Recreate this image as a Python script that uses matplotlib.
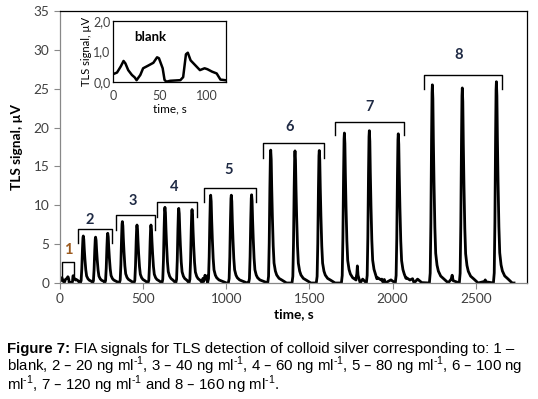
"""FIA signals for TLS detection of colloid silver (Figure 7 recreation)."""

import matplotlib
matplotlib.use("Agg")
import matplotlib.pyplot as plt

plt.rcParams["font.family"] = ["Lato", "DejaVu Sans"]

# blank run (inset, also the start of the main trace), time in s, signal in uV
blank_t = [0, 4, 8, 11, 13, 16, 20, 23, 25, 29, 32, 37, 43, 47, 49, 53, 55, 57,
           61, 72, 75, 78, 80, 83, 88, 93, 98, 101, 106, 111, 115, 120]
blank_v = [0.25, 0.3, 0.5, 0.68, 0.6, 0.38, 0.22, 0.14, 0.05, 0.22, 0.44, 0.52,
           0.62, 0.8, 0.77, 0.44, 0.06, 0.0, 0.03, 0.05, 0.15, 0.9, 0.95, 0.7,
           0.54, 0.38, 0.44, 0.41, 0.33, 0.27, 0.07, 0.05]

# peak maxima for groups 2..8 (three injections each)
peak_times = [140, 214, 287, 375, 463, 547, 631, 714, 794,
              906, 1030, 1152, 1267, 1413, 1559, 1710, 1860, 2034,
              2239, 2419, 2624]
peak_heights = [6.05, 5.9, 6.4, 7.9, 7.46, 7.46, 9.74, 9.6, 9.45,
                11.3, 11.3, 11.35, 17.1, 17.0, 17.05, 19.3, 19.6, 19.2,
                25.5, 25.1, 25.9]

# shape of a single injection peak (offset s, fraction of max)
profile_dt = [-18, -13, -9, -5, -2, 0, 3, 6, 10, 15, 20, 28, 36, 50, 70, 95]
profile_frac = [0.0, 0.05, 0.3, 0.72, 0.96, 1.0, 0.93, 0.72, 0.5, 0.28, 0.15,
                0.09, 0.06, 0.035, 0.02, 0.0]

# baseline disturbances between peaks
extra_t = [852, 860, 866, 872, 878, 884, 889, 1780, 1785, 1788, 1792, 1797,
           1820, 1905, 1935, 1944, 1950, 1990, 2080, 2120, 2150, 2175,
           2330, 2352, 2358, 2364, 2552, 2557, 2562, 2730]
extra_v = [0.1, 0.6, 0.3, 1.0, 0.5, 0.9, 0.2, 0.6, 1.2, 2.2, 1.0, 0.6,
           0.5, 0.55, 0.5, 0.0, 0.45, 0.4, 0.6, 0.55, 0.5, 0.05,
           0.1, 0.5, 1.0, 0.3, 0.2, 0.4, 0.15, 0.0]

# brackets: start, end, top, end-tick bottom; label position
br_x0 = [10, 106, 335, 585, 868, 1221, 1654, 2189]
br_x1 = [84, 315, 571, 822, 1179, 1588, 2070, 2660]
br_top = [2.7, 6.9, 8.7, 10.4, 12.2, 18.0, 20.7, 26.8]
br_bot = [0.6, 5.2, 6.8, 8.5, 10.4, 16.1, 19.0, 24.9]
lab_x = [50, 180, 437, 685, 1012, 1379, 1864, 2395]
lab_y = [4.2, 8.1, 10.5, 12.3, 14.5, 20.1, 22.7, 29.3]
labels = ["1", "2", "3", "4", "5", "6", "7", "8"]

SUP = "$^{\\mathregular{\u20101}}$"
CAPTION_BOLD = "Figure 7:"
CAPTION_1 = " FIA signals for TLS detection of colloid silver corresponding to: 1 \u2013"
CAPTION_2 = (f"blank, 2 \u2013 20 ng ml{SUP}, 3 \u2013 40 ng ml{SUP}, "
             f"4 \u2013 60 ng ml{SUP}, 5 \u2013 80 ng ml{SUP}, 6 \u2013 100 ng")
CAPTION_3 = f"ml{SUP}, 7 \u2013 120 ng ml{SUP} and 8 \u2013 160 ng ml{SUP}."


def build_trace():
    pts = list(zip(blank_t, blank_v))
    for i, (t0, h) in enumerate(zip(peak_times, peak_heights)):
        limit = peak_times[i + 1] - 18 if i + 1 < len(peak_times) else 1e9
        for dt, f in zip(profile_dt, profile_frac):
            t = t0 + dt
            if t < limit:
                pts.append((t, h * f))
    pts += list(zip(extra_t, extra_v))
    pts.sort(key=lambda p: p[0])
    return [p[0] for p in pts], [p[1] for p in pts]


def main():
    fig = plt.figure(figsize=(5.38, 3.99), dpi=100)
    ax = fig.add_axes([60 / 538, 1 - 283 / 399, 467 / 538, 272 / 399])

    t, v = build_trace()
    ax.plot(t, v, color="black", lw=2.0, solid_joinstyle="round")

    for i in range(len(labels)):
        ax.plot([br_x0[i], br_x0[i], br_x1[i], br_x1[i]],
                [br_bot[i], br_top[i], br_top[i], br_bot[i]],
                color="black", lw=1.0)
        ax.text(lab_x[i], lab_y[i], labels[i], ha="center", va="center",
                fontsize=10.5, fontweight="bold",
                color="#9C5A1E" if i == 0 else "#1F2A44")

    ax.set_xlim(0, 2808)
    ax.set_ylim(0, 35)
    ax.set_xticks([0, 500, 1000, 1500, 2000, 2500])
    ax.set_yticks(range(0, 36, 5))
    ax.tick_params(axis="both", labelsize=9.8, labelcolor="#404040",
                   color="#888888", direction="out", length=4, width=0.8)
    for s in ("left", "bottom"):
        ax.spines[s].set_color("#888888")
        ax.spines[s].set_linewidth(0.9)
    for s in ("top", "right"):
        ax.spines[s].set_color("black")
        ax.spines[s].set_linewidth(0.9)
    ax.set_xlabel("time, s", fontsize=9.8, fontweight="bold", labelpad=2)
    ax.set_ylabel("TLS signal, \u00b5V", fontsize=9.8, fontweight="bold", labelpad=8)

    # inset with the blank run
    ins = fig.add_axes([113.3 / 538, 1 - 81.7 / 399, 112.7 / 538, 61 / 399])
    ins.plot(blank_t, blank_v, color="black", lw=1.8)
    ins.set_xlim(0, 121)
    ins.set_ylim(0, 2.0)
    ins.set_xticks([0, 50, 100])
    ins.set_yticks([0, 1.0, 2.0])
    ins.set_yticklabels(["0,0", "1,0", "2,0"])
    ins.tick_params(axis="both", labelsize=9, labelcolor="#404040", length=0, pad=2)
    ins.tick_params(axis="x", pad=6)
    for s in ins.spines.values():
        s.set_color("black")
        s.set_linewidth(0.9)
    ins.text(22, 1.45, "blank", fontsize=9.5, fontweight="bold", ha="left", va="center")
    ins.set_xlabel("time, s", fontsize=8.5, labelpad=1)
    ins.set_ylabel("TLS signal, \u00b5V", fontsize=8, labelpad=1)

    # caption
    cap_font = ["Liberation Sans", "DejaVu Sans"]
    size = 10.8
    t1 = fig.text(7 / 538, 1 - 352.5 / 399, CAPTION_BOLD, fontsize=size,
                  fontweight="bold", family=cap_font, va="baseline")
    fig.canvas.draw()
    bb = t1.get_window_extent()
    fig.text(bb.x1 / 538, 1 - 352.5 / 399, CAPTION_1, fontsize=size,
             family=cap_font, va="baseline")
    fig.text(7 / 538, 1 - 371 / 399, CAPTION_2, fontsize=size,
             family=cap_font, va="baseline")
    fig.text(7 / 538, 1 - 390 / 399, CAPTION_3, fontsize=size,
             family=cap_font, va="baseline")

    fig.savefig("out.png", dpi=100, facecolor="white")
    plt.close(fig)


if __name__ == "__main__":
    main()
